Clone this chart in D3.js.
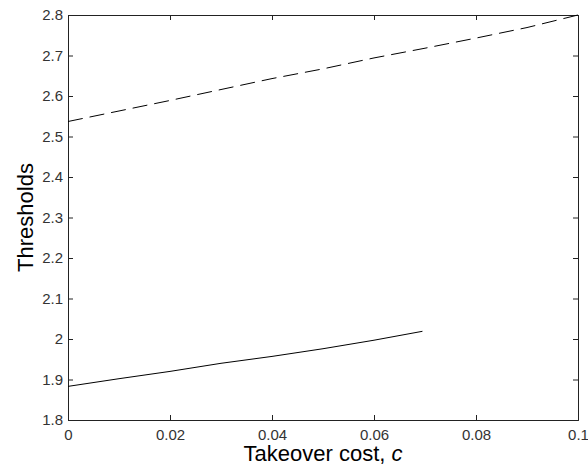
<!DOCTYPE html>
<html>
<head>
<meta charset="utf-8">
<script src="https://cdn.jsdelivr.net/npm/d3@7"></script>
<style>
  body { margin: 0; background: #fff; }
  svg text { font-family: Arial, "Liberation Sans", sans-serif; }
</style>
</head>
<body>
<svg id="chart" width="588" height="469"></svg>
<script>
// data
var costSolid = [0, 0.01, 0.02, 0.03, 0.04, 0.05, 0.06, 0.0695],
    threshSolid = [1.883, 1.902, 1.920, 1.940, 1.957, 1.976, 1.997, 2.019];

var costDashed = [0, 0.01, 0.02, 0.03, 0.04, 0.05, 0.06, 0.07, 0.08, 0.09, 0.1],
    threshDashed = [2.537, 2.563, 2.589, 2.616, 2.643, 2.667, 2.694, 2.718, 2.743, 2.769, 2.8];

var xTicks = [0, 0.02, 0.04, 0.06, 0.08, 0.1],
    yTicks = [1.8, 1.9, 2, 2.1, 2.2, 2.3, 2.4, 2.5, 2.6, 2.7, 2.8];

var LEFT = 68, RIGHT = 578, TOP = 15, BOTTOM = 420,
    TICK = 5;

var svg = d3.select('#chart');

var x = d3.scaleLinear().domain([0, 0.1]).range([LEFT, RIGHT]);
var y = d3.scaleLinear().domain([1.8, 2.8]).range([BOTTOM, TOP]);

function fmt(v) { return String(+v.toFixed(2)); }

// axes with inward ticks, mirrored on top/right
svg.append('g')
    .attr('transform', 'translate(0,' + BOTTOM + ')')
    .call(d3.axisBottom(x).tickValues(xTicks).tickSize(-TICK).tickPadding(9).tickFormat(fmt));
svg.append('g')
    .attr('transform', 'translate(0,' + TOP + ')')
    .call(d3.axisTop(x).tickValues(xTicks).tickSize(-TICK).tickFormat(''));
svg.append('g')
    .attr('transform', 'translate(' + LEFT + ',0)')
    .call(d3.axisLeft(y).tickValues(yTicks).tickSize(-TICK).tickPadding(5).tickFormat(fmt));
svg.append('g')
    .attr('transform', 'translate(' + RIGHT + ',0)')
    .call(d3.axisRight(y).tickValues(yTicks).tickSize(-TICK).tickFormat(''));

svg.selectAll('.domain').attr('stroke', '#222');
svg.selectAll('.tick line').attr('stroke', '#222');
svg.selectAll('.tick text')
    .attr('fill', '#333')
    .style('font-size', '15px');

var line = d3.line()
    .x(function (d) { return x(d[0]); })
    .y(function (d) { return y(d[1]); });

svg.append('path')
    .datum(d3.zip(costSolid, threshSolid))
    .attr('d', line)
    .attr('fill', 'none')
    .attr('stroke', '#000')
    .attr('stroke-width', 1);

svg.append('path')
    .datum(d3.zip(costDashed, threshDashed))
    .attr('d', line)
    .attr('fill', 'none')
    .attr('stroke', '#000')
    .attr('stroke-width', 1)
    .attr('stroke-dasharray', '15,7');

// axis titles
var xl = svg.append('text')
    .attr('x', (LEFT + RIGHT) / 2)
    .attr('y', 461)
    .attr('text-anchor', 'middle')
    .attr('fill', '#000')
    .style('font-size', '22px')
    .text('Takeover cost, ');
xl.append('tspan').style('font-style', 'italic').text('c');

svg.append('text')
    .attr('transform', 'translate(33,' + ((TOP + BOTTOM) / 2) + ') rotate(-90)')
    .attr('text-anchor', 'middle')
    .attr('fill', '#000')
    .style('font-size', '22px')
    .text('Thresholds');
</script>
</body>
</html>
